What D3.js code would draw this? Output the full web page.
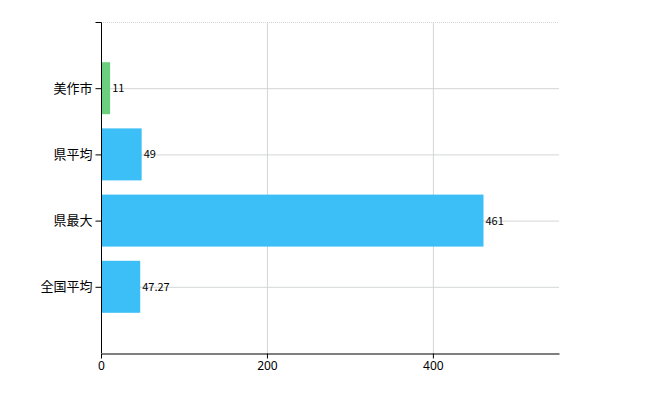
<!DOCTYPE html>
<html><head><meta charset="utf-8">
<script src="https://cdn.jsdelivr.net/npm/d3@7"></script>
<style>
body{margin:0;background:#fff;font-family:"Noto Sans CJK JP",sans-serif;}
.grid line{stroke:#d3d6d6;}
</style></head>
<body><svg id="chart"></svg>
<script>
let categories = ['美作市', '県平均', '県最大', '全国平均'];
let values = [11, 49, 461, 47.27];
let labels = ['11', '49', '461', '47.27'];
let barColors = ['#6ccf7f', '#3cbff7', '#3cbff7', '#3cbff7'];
let xTicks = [0, 200, 400];

let w = 650, h = 400;
let mLeft = 101, mRight = 559, mTop = 22, mBottom = 353;

let svg = d3.select('#chart').attr('width', w).attr('height', h);

let xScale = d3.scaleLinear().domain([0, 552]).range([mLeft, mRight]);
let yScale = d3.scalePoint().domain(categories).range([mTop, mBottom]).padding(1);
let barH = 52;

// gridlines
let grid = svg.append('g').attr('class', 'grid');
grid.selectAll('.h').data(categories).enter().append('line')
  .attr('x1', mLeft).attr('x2', mRight)
  .attr('y1', d => yScale(d) + 0.5).attr('y2', d => yScale(d) + 0.5);
grid.append('line').attr('x1', mLeft).attr('x2', mRight).attr('y1', mTop + 0.5).attr('y2', mTop + 0.5)
  .attr('stroke-dasharray', '1,1');
grid.selectAll('.v').data(xTicks.slice(1)).enter().append('line')
  .attr('y1', mTop).attr('y2', mBottom)
  .attr('x1', d => xScale(d) + 0.5).attr('x2', d => xScale(d) + 0.5);

svg.selectAll('rect.bar').data(values).enter().append('rect')
  .attr('x', xScale(0))
  .attr('y', (d, i) => yScale(categories[i]) - barH / 2)
  .attr('width', d => xScale(d) - xScale(0))
  .attr('height', barH)
  .attr('fill', (d, i) => barColors[i]);

svg.selectAll('text.val').data(values).enter().append('text')
  .attr('x', d => xScale(d) + 2)
  .attr('y', (d, i) => yScale(categories[i]) + 4)
  .attr('font-size', 11).attr('fill', '#000')
  .text((d, i) => labels[i]);

let yAxis = d3.axisLeft(yScale).tickSize(6).tickPadding(3);
let yg = svg.append('g').attr('transform', `translate(${mLeft + 0.5},0)`).call(yAxis);
yg.select('.domain').attr('d', `M-6,${mTop + 0.5}H0V${mBottom}`);
yg.selectAll('text').attr('font-size', 13).attr('font-family', '"Noto Sans CJK JP",sans-serif').attr('fill', '#000');

let xAxis = d3.axisBottom(xScale).tickValues(xTicks).tickSize(5).tickSizeOuter(0);
let xg = svg.append('g').attr('transform', `translate(0,${mBottom + 0.5})`).call(xAxis);
xg.selectAll('text').attr('font-size', 12).attr('font-family', '"Noto Sans",sans-serif').attr('fill', '#000');
</script></body></html>
